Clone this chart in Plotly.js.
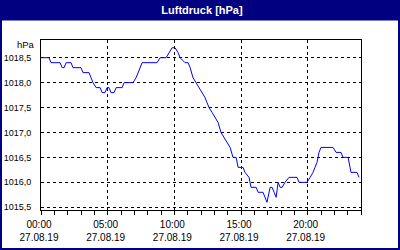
<!DOCTYPE html>
<html>
<head>
<meta charset="utf-8">
<script src="https://cdn.plot.ly/plotly-3.0.1.min.js"></script>
<style>
  html, body { margin: 0; padding: 0; background: #ffffff; }
  #chart { width: 400px; height: 250px; }
</style>
</head>
<body>
<div id="chart"></div>
<script>
const chartTitle = "Luftdruck [hPa]";
const unitLabel = "hPa";
const day = "2019-08-27";
const times = [
  "00:00","00:36","00:45","01:26","01:35","01:44","01:53","02:15","02:24","03:00",
  "03:09","03:36","03:45","03:54","04:08","04:26","04:35","04:48","04:57","05:06",
  "05:15","05:29","05:38","06:05","06:14","06:54","07:08","07:17","07:26","07:35",
  "08:42","08:56","09:23","09:36","09:50","10:03","10:17","10:26","10:48","11:02",
  "11:11","11:24","11:38","11:51","12:05","12:18","12:27","12:36","12:50","13:03",
  "13:17","13:30","13:44","13:57","14:11","14:24","14:38","14:47","15:09","15:18",
  "15:36","15:45","16:08","16:17","16:39","16:48","16:57","17:11","17:20","17:29",
  "17:38","17:47","17:56","18:05","18:18","18:36","19:12","19:21","19:57","20:11",
  "20:24","20:33","20:42","20:51","21:00","21:54","22:08","22:30","22:39","23:02",
  "23:06","23:15","23:42","23:51"
];
const pressure = [
  1018.5,1018.5,1018.4,1018.4,1018.3,1018.3,1018.4,1018.4,1018.3,1018.3,
  1018.2,1018.2,1018.1,1018.0,1017.9,1017.9,1017.8,1017.8,1017.9,1017.9,
  1017.8,1017.8,1017.9,1017.9,1018.0,1018.0,1018.1,1018.2,1018.3,1018.4,
  1018.4,1018.5,1018.5,1018.6,1018.7,1018.7,1018.6,1018.5,1018.4,1018.4,
  1018.3,1018.1,1018.0,1017.9,1017.8,1017.7,1017.6,1017.5,1017.4,1017.3,
  1017.2,1017.0,1016.9,1016.8,1016.7,1016.5,1016.5,1016.3,1016.3,1016.2,
  1016.1,1015.9,1015.9,1015.8,1015.8,1015.7,1015.6,1015.9,1015.9,1015.8,
  1015.7,1016.0,1015.9,1015.9,1016.0,1016.1,1016.1,1016.0,1016.0,1016.1,
  1016.2,1016.3,1016.4,1016.6,1016.7,1016.7,1016.6,1016.6,1016.5,1016.5,
  1016.4,1016.2,1016.2,1016.1
];
const xStart = "2019-08-27 00:00";
const xEnd = "2019-08-28 00:00";
const yMin = 1015.445;
const yMax = 1018.855;

const x = times.map(t => day + " " + t);

const navy = "#000080";
const fontFam = "'Liberation Sans', 'DejaVu Sans', sans-serif";

const L = 41, R = 39, T = 40, B = 40, W = 400, H = 250;
const pw = W - L - R, ph = H - T - B;
const px = v => (v - L) / pw;
const py = v => (H - B - v) / ph;

const trace = {
  x: x, y: pressure, type: "scatter", mode: "lines",
  line: { color: "#0000ff", width: 1, shape: "linear" },
  hoverinfo: "skip"
};

const layout = {
  width: W, height: H,
  margin: { l: L, r: R, t: T, b: B, pad: 0 },
  paper_bgcolor: "#ffffff",
  plot_bgcolor: "#ffffff",
  showlegend: false,
  separators: ",.",
  font: { family: fontFam, size: 10, color: "#000000" },
  title: {
    text: "<b>" + chartTitle + "</b>",
    font: { family: fontFam, size: 11, color: "#ffffff" },
    x: 0.505, xref: "container", xanchor: "center",
    y: 1 - 10.5 / H, yref: "container", yanchor: "middle"
  },
  xaxis: {
    type: "date",
    range: [xStart, xEnd],
    tick0: xStart, dtick: 5 * 3600000,
    tickformat: "%H:%M<br>%d.%m.%y",
    ticks: "outside", ticklen: 4, tickcolor: "#000000", tickwidth: 1,
    ticklabelshift: -2,
    ticklabelstandoff: 1,
    minor: { dtick: 3600000, ticks: "outside", ticklen: 4, tickcolor: "#000000", showgrid: false },
    showgrid: true, gridcolor: "#000000", gridwidth: 1, griddash: "3px,3px",
    showline: true, linecolor: "#000000", linewidth: 1, mirror: true,
    zeroline: false, fixedrange: true,
    tickfont: { family: fontFam, size: 10, color: "#000000" }
  },
  yaxis: {
    range: [yMin, yMax],
    tick0: 1015.5, dtick: 0.5, tickformat: ".1f",
    ticks: "", ticklabelstandoff: 7,
    showgrid: true, gridcolor: "#000000", gridwidth: 1, griddash: "3px,3px",
    showline: true, linecolor: "#000000", linewidth: 1, mirror: true,
    zeroline: false, fixedrange: true,
    tickfont: { family: fontFam, size: 9, color: "#000000" }
  },
  shapes: [
    { type: "rect", xref: "paper", yref: "paper", layer: "below",
      x0: px(-2), x1: px(402), y0: py(20.5), y1: py(-2),
      fillcolor: navy, line: { width: 0 } },
    { type: "rect", xref: "paper", yref: "paper", layer: "above",
      x0: px(1), x1: px(399), y0: py(249), y1: py(0),
      fillcolor: "rgba(0,0,0,0)", line: { color: navy, width: 2 } }
  ],
  annotations: [
    { text: unitLabel, xref: "paper", yref: "paper", x: px(37), y: py(44.5),
      xanchor: "right", yanchor: "middle", showarrow: false,
      font: { family: fontFam, size: 9.5, color: "#000000" } }
  ]
};

Plotly.newPlot("chart", [trace], layout, { displayModeBar: false, staticPlot: true });
</script>
</body>
</html>
